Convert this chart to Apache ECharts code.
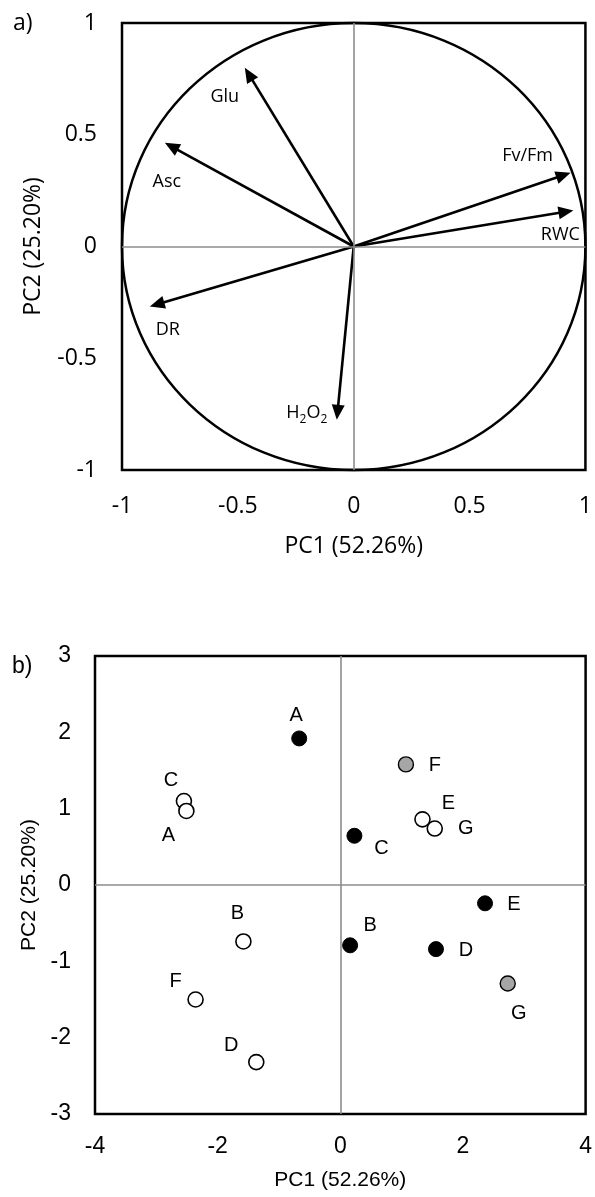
<!DOCTYPE html>
<html><head><meta charset="utf-8">
<script src="https://cdn.jsdelivr.net/npm/echarts@6/dist/echarts.min.js"></script>
<style>html,body{margin:0;padding:0;background:#fff}#c{width:595px;height:1197px}</style>
</head><body><div id="c"></div>
<script>
// ---------- Panel a: loadings ----------
const loadingNames = ['Glu', 'Asc', 'Fv/Fm', 'RWC', 'DR', 'H2O2'];
const loadingPC1   = [-0.47, -0.815, 0.936, 0.948, -0.88, -0.073];
const loadingPC2   = [0.80, 0.464, 0.33, 0.161, -0.268, -0.775];
const aTicks = [-1, -0.5, 0, 0.5, 1];
const circleRadius = 1;

// ---------- Panel b: scores ----------
const openLabels = ['C', 'A', 'B', 'F', 'D', 'E', 'G'];
const openPC1    = [-2.55, -2.51, -1.58, -2.36, -1.37, 1.34, 1.54];
const openPC2    = [1.10, 0.97, -0.74, -1.50, -2.32, 0.86, 0.74];
const blackLabels = ['A', 'C', 'B', 'D', 'E'];
const blackPC1    = [-0.67, 0.23, 0.16, 1.56, 2.36];
const blackPC2    = [1.92, 0.645, -0.79, -0.84, -0.24];
const greyLabels = ['F', 'G'];
const greyPC1    = [1.07, 2.73];
const greyPC2    = [1.58, -1.29];
const bXTicks = [-4, -2, 0, 2, 4];
const bYTicks = [-3, -2, -1, 0, 1, 2, 3];

const axisTitleX = 'PC1 (52.26%)';
const axisTitleY = 'PC2 (25.20%)';

// label placement (style, not data)
const aLabelOffset = {'Glu':[-20,29],'Asc':[2,39],'Fv/Fm':[-43,-17],'RWC':[-13,24],'DR':[18,23],'H2O2':[-30,-7]};
const bLabelOffset = {
  'open-C':[-13,-21],'open-A':[-18,25],'open-B':[-6,-28],'open-F':[-20,-18],'open-D':[-25,-17],'open-E':[26,-16],'open-G':[31,0],
  'black-A':[-3,-23],'black-C':[27,13],'black-B':[20,-20],'black-D':[30,1],'black-E':[29,1],
  'grey-F':[29,1],'grey-G':[11,30]
};

const FA = '"Open Sans", sans-serif';
const FB = '"Liberation Sans", Arial, sans-serif';

function step(t){ return t[1]-t[0]; }

function makeAxis(gridIndex, ticks, font, fs, name, nameGap, labelMargin){
  return {
    gridIndex, type:'value', min: ticks[0], max: ticks[ticks.length-1], interval: step(ticks),
    axisLine:{show:false}, axisTick:{show:false}, splitLine:{show:false},
    axisLabel:{color:'#000', fontFamily:font, fontSize:fs, margin:labelMargin},
    name, nameLocation:'middle', nameGap,
    nameTextStyle:{color:'#000', fontFamily:font, fontSize: gridIndex===0?23:21}
  };
}

function scoreSeries(group, labels, xs, ys, itemStyle){
  return {
    type:'scatter', xAxisIndex:1, yAxisIndex:1, symbol:'circle', symbolSize:15, z:5,
    itemStyle: Object.assign({opacity:1}, itemStyle),
    emphasis:{disabled:true},
    label:{show:true, position:'inside', color:'#000', fontFamily:FB, fontSize:20, formatter: p => p.data.name},
    data: labels.map((l,i)=>({name:l, value:[xs[i], ys[i]], label:{offset: bLabelOffset[group+'-'+l]}}))
  };
}

const chart = echarts.init(document.getElementById('c'), null, {renderer:'canvas'});
const option = {
  backgroundColor:'#fff',
  animation:false,
  grid:[
    {left:122, top:23, width:466, height:447, show:true, borderColor:'#000', borderWidth:2.5, backgroundColor:'transparent'},
    {left:95, top:656, width:492, height:458, show:true, borderColor:'#000', borderWidth:2.5, backgroundColor:'transparent'}
  ],
  xAxis:[
    makeAxis(0, aTicks, FA, 23, axisTitleX, 65, 25),
    makeAxis(1, bXTicks, FB, 23, axisTitleX, 56, 21)
  ],
  yAxis:[
    makeAxis(0, aTicks, FA, 23, axisTitleY, 77, 25),
    makeAxis(1, bYTicks, FB, 23, axisTitleY, 54, 24)
  ],
  graphic:[
    {type:'text', left:13, top:12, style:{text:'a)', font:'23px '+FA, fill:'#000'}},
    {type:'text', left:12, top:655, style:{text:'b)', font:'23px '+FB, fill:'#000'}}
  ],
  series:[
    // zero lines panel a
    {type:'scatter', xAxisIndex:0, yAxisIndex:0, data:[], z:1,
      markLine:{silent:true, symbol:'none', label:{show:false}, lineStyle:{color:'#8c8c8c', type:'solid', width:1.6},
        data:[{xAxis:0},{yAxis:0}]}},
    // unit circle
    {type:'custom', xAxisIndex:0, yAxisIndex:0, z:2, data:[[0,0,circleRadius]],
      renderItem:(params, api)=>{
        const c = api.coord([api.value(0), api.value(1)]);
        const r = api.value(2);
        const sx = api.size([r,0])[0], sy = api.size([0,r])[1];
        return {type:'ellipse', shape:{cx:c[0], cy:c[1], rx:sx, ry:sy}, style:{fill:null, stroke:'#000', lineWidth:2.5}};
      }},
    // arrows
    {type:'custom', xAxisIndex:0, yAxisIndex:0, z:3,
      data: loadingNames.map((n,i)=>({name:n, value:[loadingPC1[i], loadingPC2[i]]})),
      renderItem:(params, api)=>{
        const o = api.coord([0,0]);
        const p = api.coord([api.value(0), api.value(1)]);
        const dx=p[0]-o[0], dy=p[1]-o[1], L=Math.hypot(dx,dy), ux=dx/L, uy=dy/L;
        const hl=15, hw=6.5, nx=-uy, ny=ux;
        const b=[p[0]-ux*hl, p[1]-uy*hl];
        const name = loadingNames[params.dataIndex];
        const off = aLabelOffset[name];
        const text = name==='H2O2' ? '{n|H}{s|2}{n|O}{s|2}' : '{n|'+name+'}';
        return {type:'group', children:[
          {type:'line', shape:{x1:o[0],y1:o[1],x2:b[0]+ux*1,y2:b[1]+uy*1}, style:{stroke:'#000', lineWidth:2.6}},
          {type:'polygon', shape:{points:[p,[b[0]+nx*hw,b[1]+ny*hw],[b[0]-nx*hw,b[1]-ny*hw]]}, style:{fill:'#000'}},
          {type:'text', x:p[0]+off[0], y:p[1]+off[1], style:{text, align:'center', verticalAlign:'middle',
            rich:{n:{fontFamily:FA, fontSize:18, lineHeight:26, verticalAlign:'middle', fill:'#000'},
                  s:{fontFamily:FA, fontSize:12, lineHeight:12, verticalAlign:'bottom', fill:'#000'}}}}
        ]};
      }},
    // panel b
    Object.assign(scoreSeries('open', openLabels, openPC1, openPC2, {color:'#fff', borderColor:'#000', borderWidth:1.6}), {
      markLine:{silent:true, symbol:'none', label:{show:false}, lineStyle:{color:'#8c8c8c', type:'solid', width:1.6},
        data:[{xAxis:0},{yAxis:0}], z:1}
    }),
    scoreSeries('black', blackLabels, blackPC1, blackPC2, {color:'#000', borderColor:'#000', borderWidth:1}),
    scoreSeries('grey', greyLabels, greyPC1, greyPC2, {color:'#a6a6a6', borderColor:'#000', borderWidth:1.4})
  ]
};
chart.setOption(option);
</script></body></html>
